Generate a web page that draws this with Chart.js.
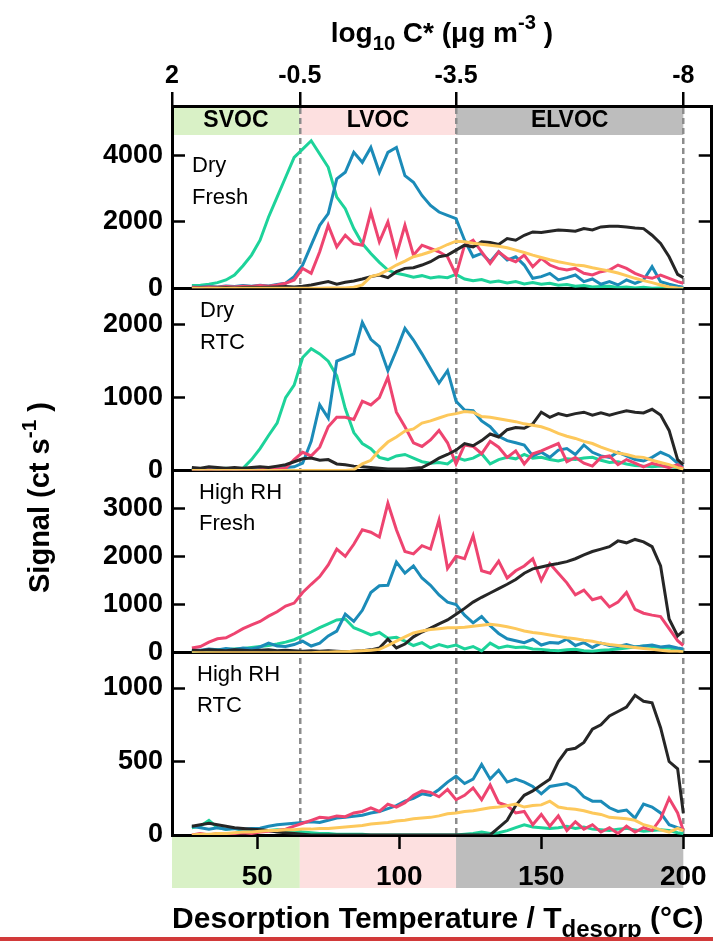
<!DOCTYPE html>
<html>
<head>
<meta charset="utf-8">
<script src="https://cdn.jsdelivr.net/npm/chart.js@4.4.1/dist/chart.umd.min.js"></script>
<style>
  html, body { margin: 0; padding: 0; background: #fff; }
  canvas { display: block; }
</style>
</head>
<body>
<canvas id="thermogram" width="718" height="941"></canvas>
<script>
// desorption temperature (°C), shared by all series
var temps = [27, 30, 33, 36, 39, 42, 45, 48, 51, 54,
    57, 60, 63, 66, 69, 72, 75, 78, 81, 84,
    87, 90, 93, 96, 99, 102, 105, 108, 111, 114,
    117, 120, 123, 126, 129, 132, 135, 138, 141, 144,
    147, 150, 153, 156, 159, 162, 165, 168, 171, 174,
    177, 180, 183, 186, 189, 192, 195, 198, 200];

// Dry / Fresh
var dryFreshGreen = [80, 90, 120, 170, 250, 400, 680, 1000, 1450, 2150,
    2750, 3350, 3950, 4200, 4450, 4050, 3650, 2750, 2400, 1800,
    1350, 1050, 780, 550, 450, 400, 330, 380, 310, 350,
    320, 420, 280, 230, 260, 180, 220, 160, 200, 130,
    170, 120, 150, 90, 110, 60, 80, 40, 50, 60,
    20, 40, 10, 30, 0, 10, 20, 0, 0];
var dryFreshBlue = [30, 40, 60, 40, 70, 50, 80, 60, 90, 70,
    110, 150, 350, 700, 1300, 1900, 2250, 3300, 3500, 4100,
    3800, 4250, 3500, 4100, 4250, 3400, 3200, 2800, 2500, 2300,
    2200, 2100, 1450, 950, 1050, 800, 1100, 850, 950, 700,
    300, 350, 450, 250, 320, 400, 200, 280, 120, 200,
    100, 250, 150, 250, 650, 200, 120, 60, 30];
var dryFreshPink = [30, 20, 40, 30, 50, 40, 60, 50, 80, 60,
    100, 150, 250, 600, 450, 1100, 1900, 1250, 1600, 1350,
    1300, 2300, 1400, 2000, 1000, 1900, 1000, 1300, 1200, 1100,
    950, 400, 1300, 1450, 1100, 750, 1100, 900, 800, 1000,
    650, 900, 700, 600, 550, 600, 450, 400, 500, 550,
    700, 600, 450, 350, 300, 400, 300, 200, 150];
var dryFreshBlack = [0, 10, 0, 10, 20, 10, 20, 30, 20, 30,
    40, 50, 40, 60, 100, 150, 200, 120, 180, 220,
    280, 350, 400, 320, 500, 600, 620, 700, 800, 950,
    1000, 1150, 1300, 1250, 1400, 1380, 1320, 1500, 1450, 1600,
    1700, 1680, 1720, 1760, 1740, 1720, 1800, 1760, 1850, 1870,
    1870, 1850, 1820, 1800, 1600, 1350, 950, 420, 320];
var dryFreshYellow = [0, 0, 0, 0, 0, 0, 0, 0, 0, 0,
    0, 0, 0, 0, 0, 0, 10, 10, 10, 30,
    100, 350, 420, 550, 700, 820, 950, 1020, 1100, 1200,
    1320, 1420, 1400, 1360, 1330, 1300, 1270, 1220, 1150, 1080,
    1000, 930, 860, 800, 750, 700, 680, 620, 570, 520,
    460, 380, 300, 230, 170, 100, 40, 10, 0];

// Dry / RTC
var dryRtcGreen = [30, 20, 30, 20, 30, 20, 30, 150, 300, 480,
    650, 1000, 1170, 1550, 1670, 1600, 1500, 1300, 850, 520,
    370, 300, 180, 150, 200, 220, 170, 120, 100, 110,
    90, 180, 140, 170, 230, 90, 150, 180, 160, 220,
    170, 180, 150, 130, 160, 150, 170, 180, 140, 110,
    120, 90, 70, 60, 50, 60, 50, 40, 30];
var dryRtcBlue = [20, 10, 20, 10, 20, 10, 20, 20, 30, 20,
    30, 40, 50, 100, 400, 900, 720, 1500, 1550, 1600,
    2030, 1800, 1700, 1370, 1650, 1950, 1790, 1600, 1400, 1200,
    1370, 950, 830, 820, 680, 600, 470, 410, 380, 350,
    200, 250, 180, 280, 300, 220, 350, 250, 200, 180,
    250, 200, 150, 130, 180, 250, 200, 100, 50];
var dryRtcPink = [10, 0, 10, 0, 10, 0, 10, 0, 10, 20,
    20, 30, 150, 250, 200, 320, 600, 730, 730, 700,
    950, 900, 1000, 1280, 800, 600, 380, 330, 420, 550,
    380, 90, 350, 330, 230, 400, 320, 180, 270, 90,
    230, 270, 320, 370, 120, 180, 100, 60, 180, 200,
    80, 150, 100, 50, 100, 70, 40, 80, 30];
var dryRtcBlack = [40, 30, 50, 40, 30, 40, 30, 40, 50, 40,
    60, 80, 120, 160, 170, 140, 150, 90, 80, 60,
    50, 40, 30, 20, 20, 20, 30, 40, 100, 170,
    220, 280, 370, 340, 410, 500, 460, 560, 590, 580,
    640, 800, 730, 780, 750, 780, 800, 760, 790, 760,
    790, 820, 800, 790, 840, 760, 550, 150, 80];
var dryRtcYellow = [0, 0, 0, 0, 0, 0, 0, 0, 0, 0,
    0, 0, 0, 0, 0, 0, 0, 0, 0, 10,
    90, 140, 280, 390, 460, 540, 570, 650, 680, 720,
    760, 780, 810, 800, 740, 730, 710, 690, 670, 640,
    620, 600, 560, 510, 470, 440, 400, 370, 320, 280,
    240, 220, 190, 180, 140, 110, 80, 40, 20];

// High RH / Fresh
var highFreshPink = [100, 130, 220, 290, 310, 400, 500, 580, 650, 760,
    850, 970, 1030, 1250, 1420, 1580, 1820, 2150, 2000, 2250,
    2550, 2500, 2400, 3100, 2550, 2100, 2050, 2220, 2150, 2750,
    1750, 2000, 1950, 2430, 1700, 1650, 1900, 1550, 1700, 1800,
    1950, 1500, 1850, 1650, 1450, 1200, 1300, 1100, 1150, 950,
    1050, 1250, 900, 820, 780, 750, 500, 250, 150];
var highFreshBlue = [60, 50, 80, 60, 90, 70, 100, 80, 120, 200,
    140, 130, 170, 240, 140, 200, 350, 450, 800, 650,
    880, 1250, 1390, 1400, 1880, 1650, 1800, 1550, 1400, 1200,
    1050, 1000, 780, 620, 750, 560, 400, 290, 250, 210,
    280, 160, 210, 200, 280, 150, 210, 110, 200, 150,
    130, 170, 120, 140, 160, 120, 140, 100, 80];
var highFreshGreen = [20, 40, 50, 60, 70, 80, 90, 110, 130, 150,
    180, 220, 270, 350, 430, 520, 600, 680, 700, 520,
    450, 370, 420, 300, 320, 240, 150, 210, 100, 170,
    120, 160, 80, 130, 40, 200, 100, 140, 110, 120,
    80, 70, 50, 40, 60, 70, 40, 30, 50, 60,
    80, 100, 120, 140, 130, 110, 100, 50, 40];
var highFreshBlack = [50, 40, 60, 50, 40, 60, 50, 40, 50, 60,
    40, 50, 40, 30, 40, 30, 40, 30, 20, 30,
    40, 60, 100, 280, 100, 180, 330, 430, 510, 600,
    680, 800, 920, 1050, 1150, 1240, 1330, 1420, 1520, 1650,
    1740, 1780, 1820, 1850, 1890, 1950, 2030, 2100, 2150, 2200,
    2320, 2280, 2350, 2300, 2200, 1800, 700, 350, 450];
var highFreshYellow = [0, 0, 0, 0, 0, 0, 0, 0, 0, 0,
    0, 0, 0, 0, 0, 10, 10, 20, 20, 30,
    40, 50, 70, 150, 240, 330, 410, 450, 480, 500,
    520, 520, 530, 550, 570, 590, 570, 540, 500, 450,
    420, 400, 370, 340, 310, 290, 260, 240, 200, 170,
    150, 130, 110, 90, 70, 50, 30, 30, 20];

// High RH / RTC
var highRtcBlack = [60, 70, 80, 70, 60, 50, 45, 40, 35, 30,
    20, 15, 10, 5, 0, 0, 0, 0, 0, 0,
    0, 0, 0, 0, 0, 0, 0, 0, 0, 0,
    0, 0, 0, 0, 0, 0, 50, 100, 200, 270,
    300, 340, 380, 500, 580, 590, 630, 720, 750, 810,
    840, 870, 950, 910, 900, 730, 500, 450, 150];
var highRtcBlue = [60, 50, 40, 50, 40, 45, 40, 45, 46, 60,
    70, 75, 80, 85, 90, 85, 100, 115, 120, 127,
    135, 150, 160, 180, 200, 230, 250, 280, 270, 310,
    360, 400, 350, 380, 480, 380, 440, 360, 380, 360,
    330, 280, 330, 340, 350, 320, 260, 230, 230, 185,
    160, 170, 115, 210, 190, 150, 70, 50, 40];
var highRtcPink = [0, 10, 0, 10, 0, 10, 15, 10, 20, 25,
    30, 40, 60, 80, 100, 120, 115, 130, 125, 150,
    160, 185, 160, 210, 190, 220, 270, 300, 290, 260,
    310, 240, 270, 320, 240, 340, 220, 200, 150, 160,
    70, 140, 60, 130, 30, 90, 40, 70, 20, 50,
    10, 60, 20, 50, 30, 110, 250, 150, 30];
var highRtcGreen = [50, 60, 100, 50, 40, 45, 30, 30, 25, 30,
    35, 30, 25, 20, 15, 10, 10, 5, 5, 5,
    5, 0, 0, 0, 0, 0, 0, 0, 0, 0,
    0, 0, 5, 10, 20, 10, 15, 30, 50, 70,
    55, 50, 45, 50, 60, 45, 55, 40, 35, 30,
    40, 45, 35, 25, 30, 35, 30, 15, 10];
var highRtcYellow = [0, 5, 5, 10, 10, 15, 20, 20, 25, 30,
    30, 35, 35, 40, 40, 45, 45, 50, 55, 60,
    65, 75, 80, 85, 95, 100, 110, 115, 120, 130,
    145, 150, 160, 165, 175, 185, 190, 200, 210, 190,
    200, 205, 230, 190, 180, 175, 165, 150, 140, 120,
    115, 110, 100, 70, 55, 35, 20, 45, 30];

var panelNames = [['Dry', 'Fresh'], ['Dry', 'RTC'], ['High RH', 'Fresh'], ['High RH', 'RTC']];
var panelMax = [5500, 2500, 3780, 1240];
var panelTicks = [[0, 2000, 4000], [0, 1000, 2000], [0, 1000, 2000, 3000], [0, 500, 1000]];
var tempTicks = [50, 100, 150, 200];
var cStarTicks = [20, 65, 120, 200];
var cStarLabels = ['2', '-0.5', '-3.5', '-8'];
var bandNames = ['SVOC', 'LVOC', 'ELVOC'];
var bandEdges = [20, 65, 120, 200];

var FONT = '"Liberation Sans", Arial, sans-serif';
var bandColors = ['#d9f1c6', '#fde0e0', '#bdbdbd'];
var colors = { yellow: '#fdc85b', black: '#262626', pink: '#ee4470', blue: '#1b8bb8', green: '#1dd39a' };

// first in list is drawn on top
var panelSeries = [
    [dryFreshYellow, dryFreshBlack, dryFreshPink, dryFreshBlue, dryFreshGreen],
    [dryRtcYellow, dryRtcBlack, dryRtcPink, dryRtcBlue, dryRtcGreen],
    [highFreshYellow, highFreshBlack, highFreshPink, highFreshBlue, highFreshGreen],
    [highRtcYellow, highRtcBlack, highRtcPink, highRtcBlue, highRtcGreen]
];
var seriesKeys = ['yellow', 'black', 'pink', 'blue', 'green'];

var datasets = [];
panelSeries.forEach(function (list, p) {
    list.forEach(function (vals, k) {
        datasets.push({
            label: panelNames[p].join(' ') + ' ' + seriesKeys[k],
            data: temps.map(function (t, i) { return { x: t, y: vals[i] }; }),
            yAxisID: 'y' + (p + 1),
            xAxisID: 'x',
            borderColor: colors[seriesKeys[k]],
            borderWidth: 3,
            pointRadius: 0,
            tension: 0,
            fill: false
        });
    });
});

function yAxis(p, side) {
    var left = side === 'left';
    return {
        type: 'linear',
        position: side,
        stack: side,
        stackWeight: 1,
        weight: left ? 4 - p : p + 1,
        min: 0,
        max: panelMax[p],
        afterBuildTicks: function (s) { s.ticks = panelTicks[p].map(function (v) { return { value: v }; }); },
        afterFit: function (s) { s.width = left ? 100 : 1; },
        ticks: {
            display: left,
            autoSkip: false,
            padding: 22,
            color: '#000',
            font: { family: FONT, size: 27, weight: 'bold' },
            callback: function (v) { return String(v); }
        },
        grid: {
            drawOnChartArea: left,
            color: function (c) { return c.tick && c.tick.value === 0 ? '#000' : 'rgba(0,0,0,0)'; },
            lineWidth: 3,
            tickLength: -13,
            tickColor: '#000',
            tickWidth: 2.5
        },
        border: { color: '#000', width: 3 }
    };
}

var scales = {
    x: {
        type: 'linear', position: 'bottom', min: 20, max: 210,
        afterBuildTicks: function (s) { s.ticks = tempTicks.map(function (v) { return { value: v }; }); },
        afterFit: function (s) { s.height = 60; },
        ticks: { padding: 11, color: '#000', autoSkip: false, maxRotation: 0, font: { family: FONT, size: 28, weight: 'bold' } },
        grid: { drawOnChartArea: false, tickLength: 14, tickColor: '#000', tickWidth: 2.5 },
        border: { color: '#000', width: 3 }
    },
    x2: {
        type: 'linear', position: 'top', min: 20, max: 210,
        afterBuildTicks: function (s) { s.ticks = cStarTicks.map(function (v) { return { value: v }; }); },
        afterFit: function (s) { s.height = 50; },
        ticks: {
            padding: 1, color: '#000', autoSkip: false, maxRotation: 0,
            font: { family: FONT, size: 25, weight: 'bold' },
            callback: function (v, i) { return cStarLabels[i]; }
        },
        grid: {
            color: function (c) { return c.tick && c.tick.value === cStarTicks[0] ? 'rgba(0,0,0,0)' : '#8c8c8c'; },
            lineWidth: 2.5, tickLength: 14, tickColor: '#000', tickWidth: 2.5, tickBorderDash: []
        },
        border: { color: '#000', width: 3, dash: [6, 4] }
    }
};
for (var p = 0; p < 4; p++) {
    scales['y' + (p + 1)] = yAxis(p, 'left');
    scales['r' + (p + 1)] = yAxis(p, 'right');
}

function richText(ctx, parts, x, y, size, small) {
    // parts: [text, shift] with shift 1 = subscript, -1 = superscript
    var widths = parts.map(function (pt) {
        ctx.font = 'bold ' + (pt[1] ? size * small : size) + 'px ' + FONT;
        return ctx.measureText(pt[0]).width;
    });
    var cx = x - widths.reduce(function (a, b) { return a + b; }, 0) / 2;
    parts.forEach(function (pt, i) {
        ctx.font = 'bold ' + (pt[1] ? size * small : size) + 'px ' + FONT;
        var dy = pt[1] === 1 ? size * 0.3 : (pt[1] === -1 ? -size * 0.45 : 0);
        ctx.fillText(pt[0], cx, y + dy);
        cx += widths[i];
    });
}

var decor = {
    id: 'decor',
    beforeDraw: function (chart) {
        var ctx = chart.ctx, a = chart.chartArea, xs = chart.scales.x;
        ctx.save();
        for (var i = 0; i < bandNames.length; i++) {
            var x0 = xs.getPixelForValue(bandEdges[i]), x1 = xs.getPixelForValue(bandEdges[i + 1]);
            ctx.fillStyle = bandColors[i];
            ctx.fillRect(x0, a.top, x1 - x0, 29);
            ctx.fillRect(x0, a.bottom, x1 - x0, 53);
        }
        ctx.restore();
    },
    afterDraw: function (chart) {
        var ctx = chart.ctx, a = chart.chartArea, xs = chart.scales.x;
        ctx.save();
        ctx.fillStyle = '#000';
        // band names
        ctx.textAlign = 'center';
        ctx.textBaseline = 'middle';
        ctx.font = 'bold 23px ' + FONT;
        for (var i = 0; i < bandNames.length; i++) {
            var xc = (xs.getPixelForValue(bandEdges[i]) + xs.getPixelForValue(bandEdges[i + 1])) / 2;
            ctx.fillText(bandNames[i], xc, a.top + 15);
        }
        // panel names
        ctx.textAlign = 'left';
        ctx.textBaseline = 'alphabetic';
        ctx.font = '22px ' + FONT;
        var dx = [20, 28, 27, 25], dy = [66, 29, 28, 28];
        panelNames.forEach(function (lines, p) {
            var top = chart.scales['y' + (p + 1)].top;
            lines.forEach(function (t, j) {
                ctx.fillText(t, a.left + dx[p], top + dy[p] + j * 31.5);
            });
        });
        // axis titles
        var mid = (a.left + a.right) / 2;
        richText(ctx, [['log', 0], ['10', 1], [' C* (\u03bcg m', 0], ['-3', -1], [' )', 0]], mid, 42, 28, 0.72);
        richText(ctx, [['Desorption Temperature / T', 0], ['desorp', 1], [' (\u00b0C)', 0]], mid - 4, 928, 30, 0.8);
        ctx.save();
        ctx.translate(49, (a.top + a.bottom) / 2 + 27);
        ctx.rotate(-Math.PI / 2);
        richText(ctx, [['Signal (ct s', 0], ['-1', -1], [' )', 0]], 0, 0, 29, 0.72);
        ctx.restore();
        // red rule along the bottom edge
        ctx.fillStyle = '#d23a3a';
        ctx.fillRect(0, chart.height - 4, 713, 4);
        ctx.restore();
    }
};

var ctx = document.getElementById('thermogram').getContext('2d');
var chart = new Chart(ctx, {
    type: 'line',
    data: { datasets: datasets },
    options: {
        responsive: false,
        animation: false,
        events: [],
        layout: { padding: { top: 56, left: 72, right: 1, bottom: 46 } },
        plugins: { legend: { display: false }, tooltip: { enabled: false }, title: { display: false } },
        scales: scales
    },
    plugins: [decor]
});
</script>
</body>
</html>
